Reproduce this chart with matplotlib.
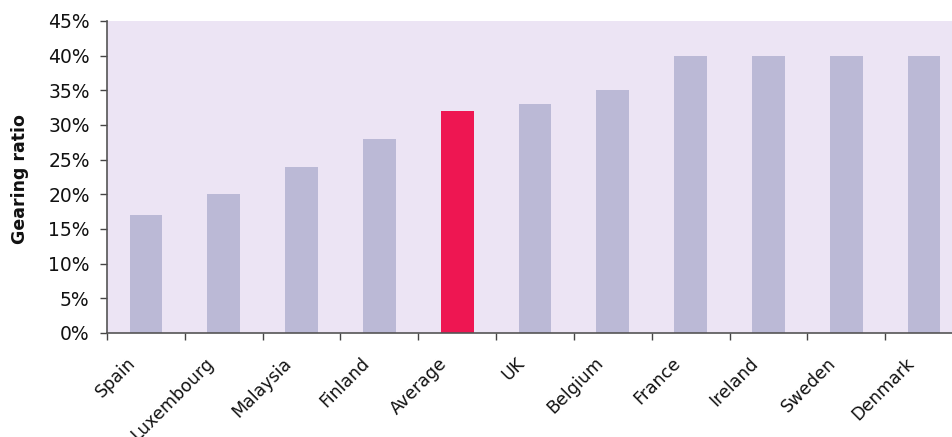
import matplotlib
matplotlib.use("Agg")
import matplotlib.pyplot as plt
from matplotlib.ticker import FixedLocator, FuncFormatter
from matplotlib.transforms import offset_copy

categories = ["Spain", "Luxembourg", "Malaysia", "Finland", "Average", "UK",
              "Belgium", "France", "Ireland", "Sweden", "Denmark"]
values = [17, 20, 24, 28, 32, 33, 35, 40, 40, 40, 40]
highlight = "Average"
y_ticks = [0, 5, 10, 15, 20, 25, 30, 35, 40, 45]

W, H = 952, 437
fig = plt.figure(figsize=(W / 100, H / 100), dpi=100)
left, right, top, bottom = 107, 963, 21, 333
ax = fig.add_axes([left / W, 1 - bottom / H, (right - left) / W, (bottom - top) / H])
ax.set_facecolor("#ECE4F4")

bar_col = "#BBB9D6"
red = "#EE1652"
colors = [red if c == highlight else bar_col for c in categories]
x = list(range(len(categories)))
ax.bar(x, values, width=0.42, color=colors, zorder=2)

ax.set_xlim(-0.5, len(categories) - 0.5)
ax.set_ylim(0, 45)
ax.yaxis.set_major_locator(FixedLocator(y_ticks))
ax.yaxis.set_major_formatter(FuncFormatter(lambda v, p: f"{int(v)}%"))

ax.set_xticks([i - 0.5 for i in range(len(categories) + 1)])
ax.set_xticklabels([])
ax.tick_params(axis="x", which="major", length=5, width=1, color="#444444", direction="out")
ax.tick_params(axis="y", length=5, width=1, color="#444444", labelsize=13.5,
               labelcolor="#111111", pad=7.5)

label_tr = offset_copy(ax.get_xaxis_transform(), fig=fig, x=-19, y=-21, units="dots")
for i, c in zip(x, categories):
    ax.text(i, 0, c, transform=label_tr, rotation=45, ha="right", va="top",
            rotation_mode="anchor", fontsize=12.5, color="#111111", clip_on=False)

for s in ["top", "right"]:
    ax.spines[s].set_visible(False)
for s in ["left", "bottom"]:
    ax.spines[s].set_color("#555555")
    ax.spines[s].set_linewidth(1.2)

fig.text(20 / W, 1 - 179 / H, "Gearing ratio", rotation=90, ha="center", va="center",
         fontsize=12.5, fontweight="bold", color="#111111")

fig.savefig("out.png", dpi=100)
